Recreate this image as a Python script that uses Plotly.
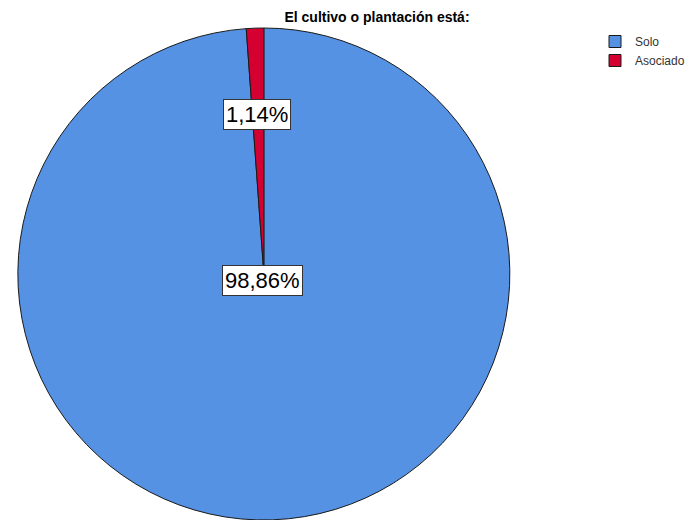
import plotly.graph_objects as go

categories = ["Solo", "Asociado"]
percentages = [98.86, 1.14]
colors = ["#5592e3", "#d50032"]

W, H = 690, 520

fig = go.Figure()
fig.add_trace(go.Pie(
    labels=categories,
    values=percentages,
    marker=dict(colors=colors, line=dict(color="#1a1a1a", width=1)),
    sort=False,
    direction="clockwise",
    rotation=0,
    textinfo="none",
    hoverinfo="label+percent",
    domain=dict(x=[16 / W, 514 / W], y=[0, 492 / H]),
))

def fmt(v):
    return f"{v:.2f}".replace(".", ",") + "%"

label_pos = [(264, 280), (258, 114)]  # pixel positions of boxed labels
for v, (px, py) in zip(percentages, label_pos):
    fig.add_annotation(
        x=px / W, y=1 - py / H, xref="paper", yref="paper",
        xanchor="center", yanchor="middle",
        text=fmt(v), showarrow=False,
        font=dict(family="Liberation Sans, Arial", size=22, color="black"),
        bgcolor="white", bordercolor="#333333", borderwidth=1, borderpad=2,
    )

fig.update_layout(
    width=W, height=H,
    margin=dict(l=0, r=0, t=0, b=0),
    paper_bgcolor="white", plot_bgcolor="white",
    title=dict(
        text="<b>El cultivo o plantación está:</b>",
        x=377 / W, xanchor="center", y=1 - 17 / H, yanchor="middle",
        font=dict(family="Liberation Sans, Arial", size=14, color="black"),
    ),
    legend=dict(
        x=598 / W, y=1 - 27 / H, xanchor="left", yanchor="top",
        font=dict(family="Liberation Sans, Arial", size=12, color="#333333"),
        itemwidth=30, tracegroupgap=0, bgcolor="rgba(0,0,0,0)",
    ),
)

fig.write_html("out.html", config={"displayModeBar": False},
               post_script="document.body.style.margin='0px';")
